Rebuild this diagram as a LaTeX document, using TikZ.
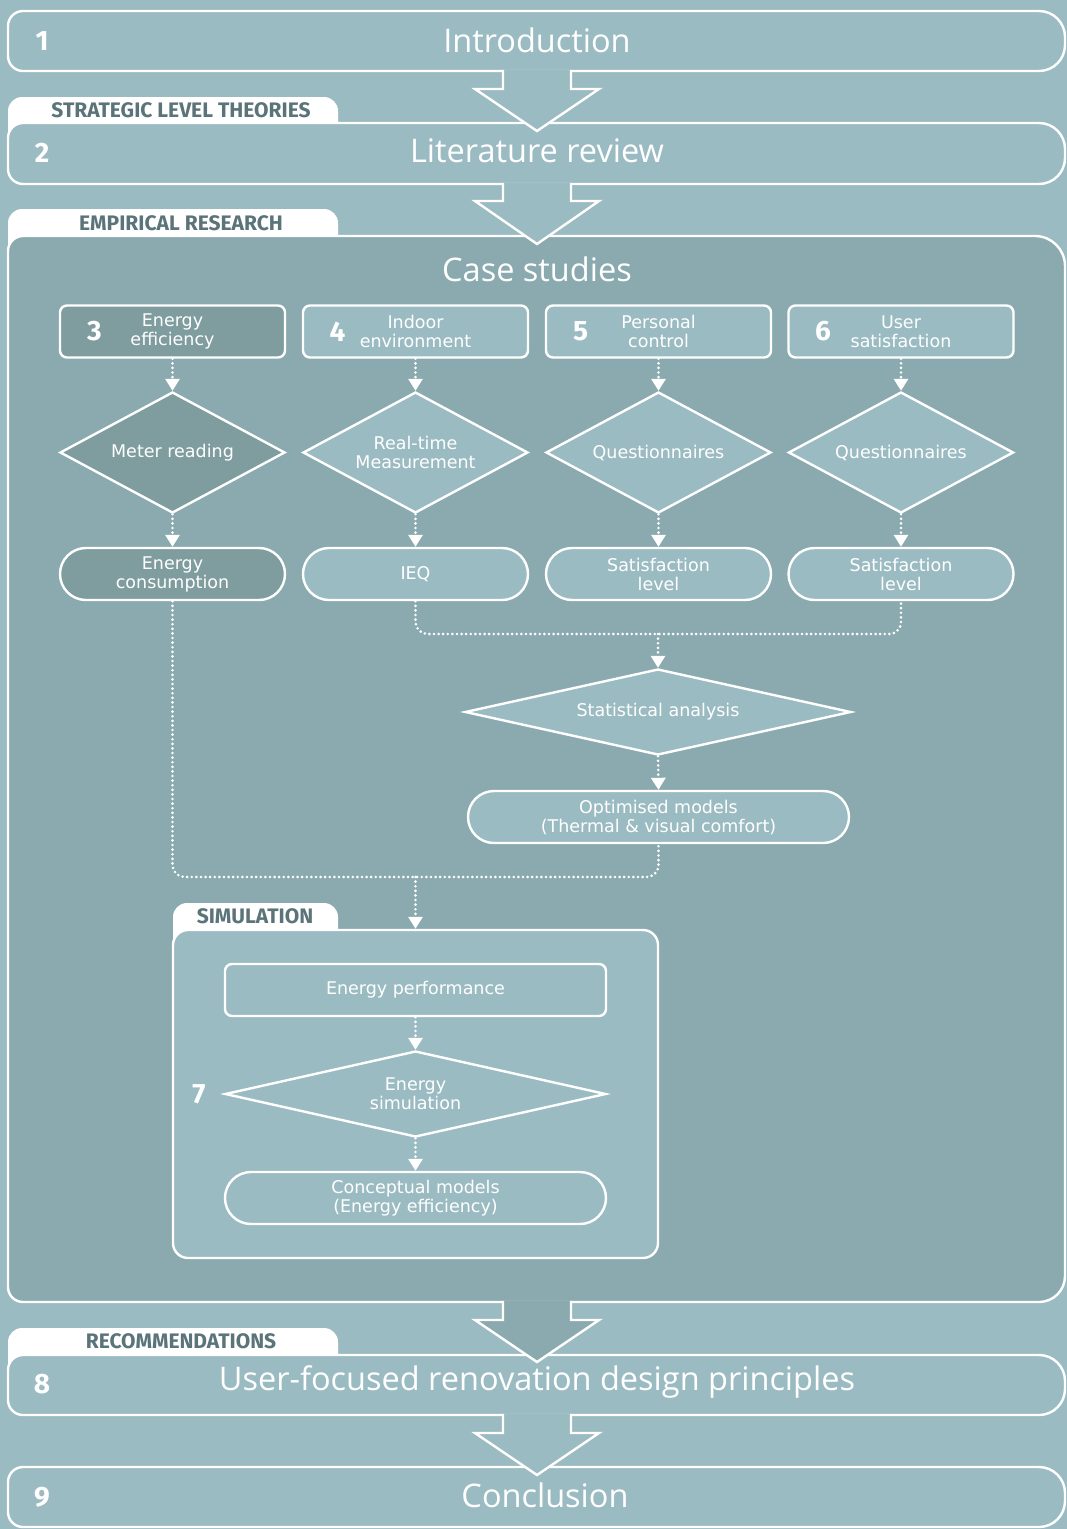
\documentclass[tikz,border=0pt]{standalone}
\usepackage{fontspec}
\setmainfont{DejaVu Sans}
\newfontfamily\titlefont{Open Sans}
\newfontfamily\tabfont{Fira Sans}
\usetikzlibrary{shapes.geometric,shapes.misc,arrows.meta}
\definecolor{bglight}{HTML}{9BBBC2}
\definecolor{bgdark}{HTML}{8BAAAF}
\definecolor{boxdark}{HTML}{7F9C9F}
\definecolor{tabtext}{HTML}{5B7479}
% stage band: y-top, y-bottom, fill
\newcommand\stagebox[3]{%
  \draw[outline, fill=#3] (23,#1) -- (1039,#1) arc[start angle=90,end angle=0,radius=26pt]
    -- (1065,#2-26) arc[start angle=0,end angle=-90,radius=26pt]
    -- (23,#2) arc[start angle=270,end angle=180,radius=15pt]
    -- (8,#1+15) arc[start angle=180,end angle=90,radius=15pt] -- cycle;}
% white tab: x-left, x-right, y-top, y-bottom
\newcommand\tabshape[4]{%
  \fill[white] (#1,#4+20) -- (#1,#3+14) arc[start angle=180,end angle=90,radius=14pt]
    -- (#2-14,#3) arc[start angle=90,end angle=0,radius=14pt] -- (#2,#4+20) -- cycle;}
% big hollow arrow: y-top, y-head, y-tip, fill
\newcommand\bigarrow[4]{%
  \fill[#4] (503,#1-1.3) -- (503,#2) -- (475,#2) -- (537,#3) -- (599,#2) -- (571,#2) -- (571,#1-1.3) -- cycle;
  \draw[outline, line join=miter] (503,#1-1.2) -- (503,#2) -- (475,#2) -- (537,#3) -- (599,#2) -- (571,#2) -- (571,#1-1.2);}
\begin{document}
\begin{tikzpicture}[x=1pt,y=-1pt,
  outline/.style={draw=white, line width=2.4pt},
  lbl/.style={text=white, font=\fontsize{17.5}{19}\selectfont, align=center},
  stepbox/.style={outline, lbl, rectangle, rounded corners=7pt, minimum width=225pt, minimum height=52pt, inner sep=0pt, fill=bglight},
  dec/.style={outline, lbl, diamond, fill=bglight, minimum width=225pt, minimum height=121pt, inner sep=0pt, shape aspect=1.86},
  pill/.style={outline, lbl, rounded rectangle, fill=bglight, minimum width=225pt, minimum height=52pt, inner sep=0pt},
  flow/.style={draw=white, line width=2.9pt, dash pattern=on 0pt off 4.6pt, line cap=round},
  flowarrow/.style={flow, -{Triangle[width=14pt,length=12pt]}},
  title/.style={text=white, font=\titlefont\fontsize{32.5}{32.5}\selectfont, inner sep=0pt},
  bignum/.style={text=white, font=\tabfont\bfseries\fontsize{28}{28}\selectfont, inner sep=0pt},
  tabtxt/.style={text=tabtext, font=\tabfont\bfseries\fontsize{21}{21}\selectfont, inner sep=0pt}
]
\fill[bglight] (0,0) rectangle (1067,1529);
\useasboundingbox (0,0) rectangle (1067,1529);

% ---- stage 1
\stagebox{11}{71}{bglight}
\node[bignum] (n1) at (42,41) {1};
\node[title] (t1) at (537,40) {Introduction};

% ---- stage 2
\tabshape{8}{338}{97}{123}
\node[tabtxt] (tab2) at (181,110) {STRATEGIC LEVEL THEORIES};
\stagebox{123}{184}{bglight}
\node[bignum] (n2) at (42,153) {2};
\node[title] (t2) at (537,151) {Literature review};
\bigarrow{71}{89}{131}{bglight}

% ---- case studies panel
\tabshape{8}{338}{209}{236}
\node[tabtxt] (tabE) at (181,223) {EMPIRICAL RESEARCH};
\draw[outline, fill=bgdark] (23,236) -- (1035,236) arc[start angle=90,end angle=0,radius=30pt]
  -- (1065,1276) arc[start angle=0,end angle=-90,radius=26pt]
  -- (23,1302) arc[start angle=270,end angle=180,radius=15pt]
  -- (8,251) arc[start angle=180,end angle=90,radius=15pt] -- cycle;
\bigarrow{184}{201}{244}{bglight}
\node[title] (cs) at (537,269) {Case studies};

% top row
\node[stepbox, fill=boxdark] (b3) at (172.5,331.5) {Energy\\efficiency};
\node[stepbox] (b4) at (415.5,331.5) {Indoor\\environment};
\node[stepbox] (b5) at (658.5,331.5) {Personal\\control};
\node[stepbox] (b6) at (901,331.5) {User\\satisfaction};
\node[bignum] (n3) at ([xshift=-78pt]b3.center) {3};
\node[bignum] (n4) at ([xshift=-78pt]b4.center) {4};
\node[bignum] (n5) at ([xshift=-78pt]b5.center) {5};
\node[bignum] (n6) at ([xshift=-78pt]b6.center) {6};

% diamonds
\node[dec, fill=boxdark] (d3) at (172.5,452.5) {Meter reading};
\node[dec] (d4) at (415.5,452.5) {Real-time\\Measurement};
\node[dec] (d5) at (658.5,452.5) {Questionnaires};
\node[dec] (d6) at (901,452.5) {Questionnaires};

% pills
\node[pill, fill=boxdark] (p3) at (172.5,574) {Energy\\consumption};
\node[pill] (p4) at (415.5,574) {IEQ};
\node[pill] (p5) at (658.5,574) {Satisfaction\\level};
\node[pill] (p6) at (901,574) {Satisfaction\\level};

\foreach \c in {3,4,5,6}{
  \draw[flowarrow] (b\c.south) -- (d\c.north);
  \draw[flowarrow] (d\c.south) -- (p\c.north);
}

% statistical analysis
\node[dec, minimum width=386pt, minimum height=86pt, shape aspect=4.5] (st) at (658,712) {Statistical analysis};
\node[pill, minimum width=381pt] (opt) at (658.5,817) {Optimised models\\(Thermal \& visual comfort)};
\coordinate (j1) at (658,634);
\draw[flow, rounded corners=12pt] (p4.south) |- (j1) -| (p6.south);
\draw[flowarrow] (j1) -- (st.north);
\draw[flowarrow] (st.south) -- (opt.north);

% simulation
\tabshape{173}{338}{903}{930}
\node[tabtxt] (tabS) at (255,916) {SIMULATION};
\node[outline, fill=bglight, rounded corners=15pt, minimum width=485pt, minimum height=328pt, inner sep=0pt] (sim) at (415.5,1094) {};
\coordinate (j2) at (415.5,877);
\draw[flow, rounded corners=12pt] (p3.south) |- (j2) -| (opt.south);
\draw[flowarrow] (j2) -- (sim.north);

\node[stepbox, minimum width=381pt] (ep) at (415.5,990) {Energy performance};
\node[dec, minimum width=381pt, minimum height=86pt, shape aspect=4.4] (es) at (415.5,1094) {Energy\\simulation};
\node[pill, minimum width=381pt] (cm) at (415.5,1198) {Conceptual models\\(Energy efficiency)};
\node[bignum] (n7) at (199,1094) {7};
\draw[flowarrow] (ep.south) -- (es.north);
\draw[flowarrow] (es.south) -- (cm.north);

% ---- stage 8
\tabshape{8}{338}{1328}{1355}
\node[tabtxt] (tabR) at (181,1341) {RECOMMENDATIONS};
\stagebox{1355}{1415}{bglight}
\bigarrow{1302}{1320}{1362}{bgdark}
\node[bignum] (n8) at (42,1384) {8};
\node[title] (t8) at (537,1382) {User-focused renovation design principles};

% ---- stage 9
\stagebox{1467}{1527}{bglight}
\bigarrow{1415}{1433}{1475}{bglight}
\node[bignum] (n9) at (42,1497) {9};
\node[title] (t9) at (545,1495) {Conclusion};
\end{tikzpicture}
\end{document}
